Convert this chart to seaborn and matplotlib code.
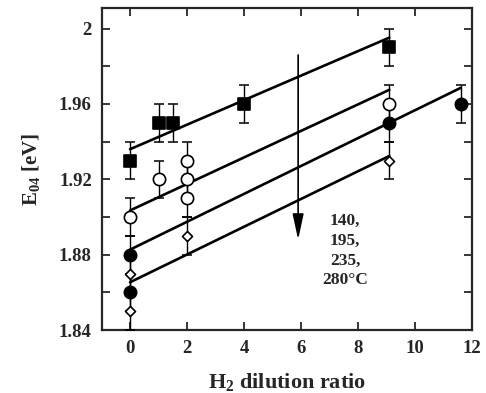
import numpy as np
import pandas as pd
import matplotlib
matplotlib.use("Agg")
import matplotlib.pyplot as plt
import seaborn as sns

# ---- data ----
sq_x = [0, 1.0, 1.5, 4, 9.1]
sq_y = [1.93, 1.95, 1.95, 1.96, 1.99]
oc_x = [0, 1.0, 2, 2, 2, 9.1]
oc_y = [1.90, 1.92, 1.93, 1.92, 1.91, 1.96]
fc_x = [0, 0, 9.1, 11.6]
fc_y = [1.88, 1.86, 1.95, 1.96]
od_x = [0, 0, 2, 9.1]
od_y = [1.87, 1.85, 1.89, 1.93]
err = 0.01

# fitted lines (start/end)
fit_names = ["sq", "oc", "fc", "od"]
fit_x0 = [0, 0, 0, 0]
fit_x1 = [9.1, 9.1, 11.6, 9.1]
fit_y0 = [1.936, 1.9035, 1.8827, 1.8654]
fit_y1 = [1.9952, 1.9675, 1.9685, 1.9324]

x_ticks = [0, 2, 4, 6, 8, 10, 12]
y_ticks = [1.84, 1.88, 1.92, 1.96, 2.00]
y_ticklabels = ["1.84", "1.88", "1.92", "1.96", "2"]
y_minor = [1.86, 1.90, 1.94, 1.98]

arrow_x = 5.9
arrow_y_start = 1.986
arrow_y_end = 1.888
note_text = "140,\n195,\n235,\n280°C"

# ---- style ----
sns.set_theme(style="ticks")
plt.rcParams["font.family"] = ["Liberation Serif", "DejaVu Serif"]
plt.rcParams["font.weight"] = "bold"
plt.rcParams["mathtext.fontset"] = "custom"
plt.rcParams["mathtext.rm"] = "Liberation Serif:bold"
plt.rcParams["mathtext.bf"] = "Liberation Serif:bold"
plt.rcParams["mathtext.it"] = "Liberation Serif:bold"
plt.rcParams["mathtext.default"] = "bf"

fig = plt.figure(figsize=(4.86, 3.93), dpi=100)
ax = fig.add_axes([0.209, 0.160, 0.762, 0.820])

pts = pd.DataFrame({
    "x": sq_x + oc_x + fc_x + od_x,
    "y": sq_y + oc_y + fc_y + od_y,
    "s": ["sq"] * len(sq_x) + ["oc"] * len(oc_x) + ["fc"] * len(fc_x) + ["od"] * len(od_x),
})

lines = pd.DataFrame({
    "x": fit_x0 + fit_x1,
    "y": fit_y0 + fit_y1,
    "s": fit_names + fit_names,
})

sns.lineplot(data=lines, x="x", y="y", units="s", estimator=None,
             color="black", lw=1.9, ax=ax, zorder=2)

ax.errorbar(pts["x"], pts["y"], yerr=err, fmt="none", ecolor="black",
            elinewidth=1.0, capsize=3.5, capthick=1.1, zorder=3)

markers = {"sq": "s", "oc": "o", "fc": "o", "od": "D"}
fills = {"sq": "black", "oc": "white", "fc": "black", "od": "white"}
sizes = {"sq": 80, "oc": 78, "fc": 78, "od": 26}
for name in ["sq", "oc", "fc", "od"]:
    sub = pts[pts["s"] == name]
    sns.scatterplot(data=sub, x="x", y="y", marker=markers[name],
                    color=fills[name], edgecolor="black", linewidth=1.2,
                    s=sizes[name], ax=ax, zorder=4, legend=False)

ax.annotate("", xy=(arrow_x, arrow_y_end), xytext=(arrow_x, arrow_y_start),
            arrowprops=dict(arrowstyle="-|>,head_length=1.3,head_width=0.28",
                            color="black", lw=1.2, shrinkA=0, shrinkB=0),
            zorder=5)
ax.text(7.55, 1.902, note_text, ha="center", va="top", fontsize=12.5,
        fontweight="bold", linespacing=1.3)

ax.set_xlim(-1, 12)
ax.set_ylim(1.84, 2.011)
ax.set_xticks(x_ticks)
ax.set_xticklabels([str(t) for t in x_ticks])
ax.set_yticks(y_ticks)
ax.set_yticklabels(y_ticklabels)
ax.set_yticks(y_minor, minor=True)

ax.tick_params(which="both", direction="in", top=True, right=True,
               length=6, width=1.3, labelsize=13.5)
ax.tick_params(axis="y", pad=7)
ax.tick_params(axis="x", pad=7)
for sp in ax.spines.values():
    sp.set_linewidth(1.6)

ax.set_xlabel("H$_2$ dilution ratio", fontsize=16, fontweight="bold", labelpad=10)
ax.set_ylabel("E$_{04}$ [eV]", fontsize=15, fontweight="bold", labelpad=12)

fig.savefig("out.png", dpi=100)
